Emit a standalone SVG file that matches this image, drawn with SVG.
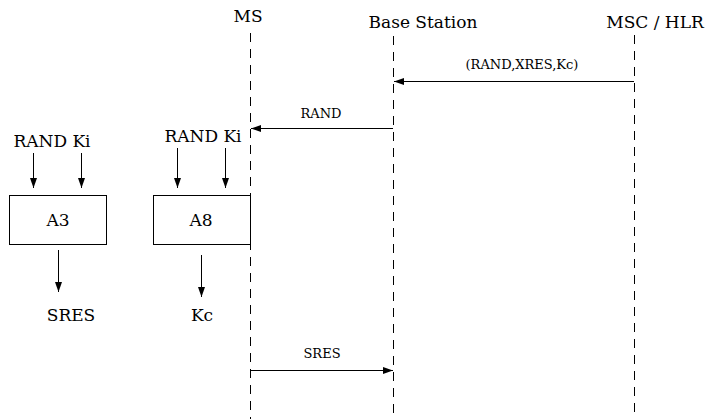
<svg xmlns="http://www.w3.org/2000/svg" width="708" height="419" viewBox="0 0 708 419">
<style>
.t{font-family:'DejaVu Serif','Liberation Serif',serif}
.big{font-size:17px}
.msg{font-size:13px}
.life{stroke:#000;stroke-width:1;stroke-dasharray:9 7;fill:none}
.ln{stroke:#000;stroke-width:1;fill:none}
.box{stroke:#000;stroke-width:1;fill:#fff}
</style>
<defs>
<marker id="ah" viewBox="0 0 10 7" refX="10" refY="3.5" markerWidth="10" markerHeight="7" markerUnits="userSpaceOnUse" orient="auto">
<path d="M0,0 L10,3.5 L0,7 Z" fill="#000"/>
</marker>
</defs>
<g id="lifelines">
<line class="life" x1="250.5" y1="33" x2="250.5" y2="419"/>
<line class="life" x1="393.5" y1="36" x2="393.5" y2="419"/>
<line class="life" x1="634.5" y1="35" x2="634.5" y2="419"/>
</g>
<g id="ms"><text class="t big" x="248" y="22" text-anchor="middle">MS</text></g>
<g id="bs"><text class="t big" x="423" y="28" text-anchor="middle">Base Station</text></g>
<g id="msc"><text class="t big" x="655" y="28" text-anchor="middle">MSC / HLR</text></g>
<g id="a3">
<rect class="box" x="9.5" y="195.5" width="97" height="49"/>
<text class="t big" x="58" y="226" text-anchor="middle">A3</text>
</g>
<g id="a8">
<rect class="box" x="153.5" y="195.5" width="97" height="49"/>
<text class="t big" x="201" y="226" text-anchor="middle">A8</text>
</g>
<g id="in1"><text class="t big" x="52" y="147" text-anchor="middle">RAND Ki</text></g>
<g id="in2"><text class="t big" x="203" y="142" text-anchor="middle">RAND Ki</text></g>
<g id="out1"><text class="t big" x="71" y="321" text-anchor="middle">SRES</text></g>
<g id="out2"><text class="t big" x="202" y="321" text-anchor="middle">Kc</text></g>
<g id="connectors">
<line class="ln" x1="634" y1="81.5" x2="394" y2="81.5" marker-end="url(#ah)"/>
<text class="t msg" x="522" y="69" text-anchor="middle">(RAND,XRES,Kc)</text>
<line class="ln" x1="393" y1="128.5" x2="251" y2="128.5" marker-end="url(#ah)"/>
<text class="t msg" x="321" y="118" text-anchor="middle">RAND</text>
<line class="ln" x1="251" y1="370.5" x2="393" y2="370.5" marker-end="url(#ah)"/>
<text class="t msg" x="322" y="358" text-anchor="middle">SRES</text>
<line class="ln" x1="33.5" y1="153" x2="33.5" y2="188" marker-end="url(#ah)"/>
<line class="ln" x1="81.5" y1="153" x2="81.5" y2="188" marker-end="url(#ah)"/>
<line class="ln" x1="177.5" y1="148" x2="177.5" y2="188" marker-end="url(#ah)"/>
<line class="ln" x1="225.5" y1="148" x2="225.5" y2="188" marker-end="url(#ah)"/>
<line class="ln" x1="58.5" y1="250" x2="58.5" y2="292" marker-end="url(#ah)"/>
<line class="ln" x1="201.5" y1="255" x2="201.5" y2="297" marker-end="url(#ah)"/>
</g>
</svg>
